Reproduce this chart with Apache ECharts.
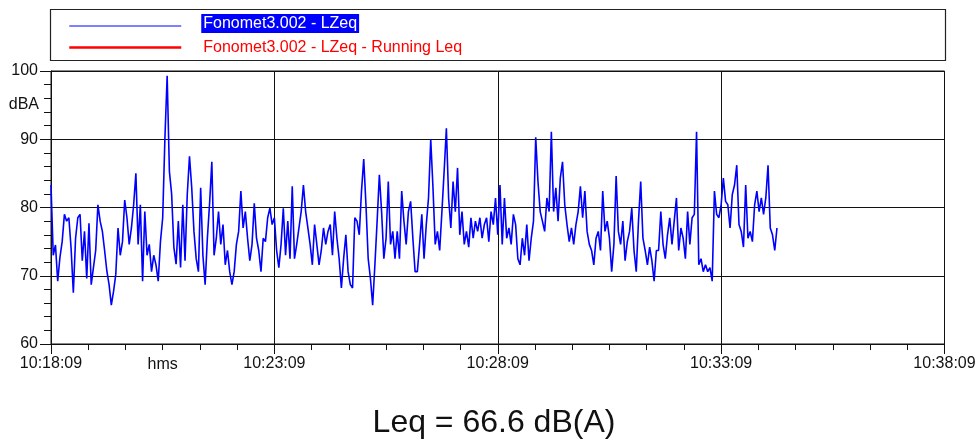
<!DOCTYPE html>
<html>
<head>
<meta charset="utf-8">
<script src="https://cdn.jsdelivr.net/npm/echarts@6/dist/echarts.min.js"></script>
<style>
html,body{margin:0;padding:0;background:#fff;}
#chart{width:980px;height:441px;}
</style>
</head>
<body>
<div id="chart"></div>
<script>
// ---- data ----
const startTime = '10:18:09';
const stepSeconds = 3;
const xTickLabels = ['10:18:09', '10:23:09', '10:28:09', '10:33:09', '10:38:09'];
const xMidLabel = 'hms';
const yTickValues = [60, 70, 80, 90, 100];
const seriesNames = ['Fonomet3.002 - LZeq', 'Fonomet3.002 - LZeq - Running Leq'];
const lzeq = [
  83.3, 73.0, 74.5, 69.2, 72.7, 75.0, 79.0, 78.0, 78.5, 74.0,
  67.5, 75.5, 78.5, 79.0, 72.2, 76.5, 69.6, 77.7, 68.7, 71.2,
  73.7, 80.4, 78.0, 76.5, 73.7, 70.7, 68.7, 65.7, 67.7, 70.2,
  77.0, 73.0, 75.0, 81.1, 78.5, 74.6, 77.0, 80.4, 85.0, 74.6,
  80.4, 69.2, 79.4, 73.0, 74.6, 70.6, 73.0, 71.6, 69.2, 75.0,
  78.5, 90.2, 99.3, 85.3, 82.0, 74.2, 71.7, 78.0, 71.2, 80.4,
  72.2, 81.9, 87.5, 82.9, 76.5, 72.5, 70.6, 82.9, 73.0, 68.7,
  75.5, 80.6, 86.7, 73.0, 75.5, 79.4, 74.6, 77.5, 71.6, 73.7,
  70.6, 68.7, 70.6, 74.6, 76.5, 82.4, 77.0, 79.4, 75.5, 72.2,
  74.6, 80.6, 75.5, 73.7, 70.6, 75.5, 75.0, 78.5, 79.9, 77.5,
  78.5, 73.7, 71.2, 74.6, 79.9, 73.0, 78.0, 72.5, 83.1, 72.5,
  74.6, 77.0, 79.4, 83.3, 79.4, 77.0, 74.6, 71.6, 77.5, 74.6,
  71.6, 73.7, 77.0, 74.6, 76.5, 77.5, 73.0, 79.4, 75.5, 72.5,
  68.2, 72.5, 76.0, 70.6, 68.7, 68.2, 78.5, 78.0, 76.0, 82.4,
  87.1, 80.4, 72.5, 69.6, 65.7, 71.6, 78.0, 84.8, 79.4, 72.5,
  75.5, 83.8, 74.6, 76.5, 72.5, 76.5, 72.5, 82.4, 78.0, 74.6,
  79.4, 80.9, 75.5, 70.6, 70.6, 74.6, 79.0, 72.5, 77.5, 81.4,
  90.0, 82.9, 74.6, 76.5, 73.7, 79.4, 85.3, 91.6, 81.4, 77.0,
  83.8, 79.4, 85.8, 76.0, 79.4, 74.6, 76.5, 74.2, 78.5, 75.5,
  78.0, 76.5, 78.5, 75.5, 77.5, 78.5, 75.0, 79.4, 77.5, 81.4,
  76.0, 83.3, 74.6, 81.4, 75.5, 77.0, 74.6, 79.0, 77.5, 72.5,
  71.6, 75.5, 73.0, 77.5, 72.2, 75.5, 78.0, 90.3, 83.8, 79.4,
  78.0, 76.5, 81.4, 79.4, 91.1, 79.4, 82.9, 78.0, 84.3, 86.7,
  80.4, 77.5, 75.0, 77.0, 74.6, 77.5, 79.4, 83.1, 78.5, 82.4,
  76.5, 74.6, 73.7, 71.6, 75.5, 76.5, 73.7, 82.4, 76.5, 78.0,
  75.5, 70.6, 74.6, 84.6, 76.5, 74.6, 78.0, 72.2, 75.0, 76.5,
  79.9, 73.7, 70.6, 78.0, 83.8, 75.5, 73.7, 71.6, 74.2, 72.2,
  69.2, 73.7, 73.7, 79.4, 74.6, 72.5, 76.0, 78.5, 74.6, 78.0,
  81.4, 73.7, 77.0, 75.5, 72.5, 79.4, 74.6, 78.5, 79.0, 91.1,
  71.6, 72.5, 70.6, 71.6, 70.6, 71.2, 69.2, 82.4, 79.0, 78.5,
  80.4, 84.3, 80.9, 80.4, 77.0, 81.9, 83.3, 86.2, 77.5, 76.5,
  74.2, 83.3, 75.5, 76.5, 75.0, 80.4, 82.4, 79.4, 81.4, 79.0,
  81.4, 86.2, 77.0, 76.0, 73.7, 77.0
];
const runningLeq = [];
const leqText = 'Leq = 66.6 dB(A)';

// ---- chart ----
const FONT = '"Liberation Sans", Arial, sans-serif';
const times = lzeq.map((v, i) => i * stepSeconds);
const lzeqData = lzeq.map((v, i) => [times[i], v]);

const chart = echarts.init(document.getElementById('chart'), null, {renderer: 'canvas'});
const option = {
  animation: false,
  backgroundColor: '#fff',
  textStyle: {fontFamily: FONT},
  grid: {left: 51, right: 35.5, top: 71, bottom: 97, show: true, borderColor: '#111', borderWidth: 1, backgroundColor: 'transparent'},
  legend: {
    orient: 'vertical',
    left: 63,
    top: 9,
    itemWidth: 112,
    itemHeight: 14,
    itemGap: 5,
    selectedMode: false,
    itemStyle: {opacity: 0, color: 'rgba(0,0,0,0)', borderWidth: 0},
    data: [
      {name: seriesNames[0], lineStyle: {width: 1}, textStyle: {padding: [0, 0, 5, 0]}},
      {name: seriesNames[1], lineStyle: {width: 2.5}}
    ],
    formatter: function (name) {
      return name === seriesNames[0] ? '{g|}{a|' + name + '}' : '{g|}{b|' + name + '}';
    },
    textStyle: {
      fontFamily: FONT,
      fontSize: 16,
      rich: {
        g: {width: 15},
        a: {color: '#fff', backgroundColor: '#0000ff', fontSize: 16, fontFamily: FONT, padding: [2, 2, 1, 2], lineHeight: 17},
        b: {color: '#ff0000', fontSize: 16, fontFamily: FONT, padding: [2, 2, 1, 2], lineHeight: 17}
      }
    }
  },
  xAxis: {
    type: 'value',
    min: 0,
    max: 1200,
    interval: 300,
    axisLine: {show: true, lineStyle: {color: '#111', width: 1}},
    axisTick: {show: true, length: 10, lineStyle: {color: '#111'}},
    minorTick: {show: true, splitNumber: 6, length: 6, lineStyle: {color: '#111'}},
    splitLine: {show: true, lineStyle: {color: '#111', width: 1}},
    axisLabel: {
      color: '#111', fontSize: 16, fontFamily: FONT, margin: 12,
      formatter: function (v) { return xTickLabels[Math.round(v / 300)] || ''; }
    }
  },
  yAxis: {
    type: 'value',
    min: yTickValues[0],
    max: yTickValues[yTickValues.length - 1],
    interval: 10,
    axisLine: {show: true, lineStyle: {color: '#111', width: 1}},
    axisTick: {show: true, length: 11, lineStyle: {color: '#111'}},
    minorTick: {show: true, splitNumber: 5, length: 7, lineStyle: {color: '#111'}},
    splitLine: {show: true, lineStyle: {color: '#111', width: 1}},
    axisLabel: {color: '#111', fontSize: 16, fontFamily: FONT, margin: 13}
  },
  series: [
    {
      name: seriesNames[0],
      type: 'line',
      data: lzeqData,
      symbol: 'none',
      showSymbol: false,
      sampling: false,
      lineStyle: {color: '#0000ff', width: 1.6},
      itemStyle: {color: '#0000ff'},
      z: 3
    },
    {
      name: seriesNames[1],
      type: 'line',
      data: runningLeq,
      symbol: 'none',
      showSymbol: false,
      lineStyle: {color: '#ff0000', width: 2.5},
      itemStyle: {color: '#ff0000'}
    }
  ]
};
chart.setOption(option);

const midX = chart.convertToPixel({xAxisIndex: 0}, 150);
const dbaY = chart.convertToPixel({yAxisIndex: 0}, 95.3);
chart.setOption({
  graphic: [
    {type: 'rect', shape: {x: 50.5, y: 9.5, width: 895, height: 51}, style: {fill: 'none', stroke: '#222', lineWidth: 1.2}, z: 0, silent: true},
    {type: 'text', x: midX, y: 365, style: {text: xMidLabel, font: '16px ' + FONT, fill: '#111', textAlign: 'center', textVerticalAlign: 'middle'}},
    {type: 'text', x: 39, y: dbaY + 1.5, style: {text: 'dBA', font: '16px ' + FONT, fill: '#111', textAlign: 'right', textVerticalAlign: 'middle'}},
    {type: 'text', x: 494, y: 423, style: {text: leqText, font: '32px ' + FONT, fill: '#111', textAlign: 'center', textVerticalAlign: 'middle'}}
  ]
});
</script>
</body>
</html>
